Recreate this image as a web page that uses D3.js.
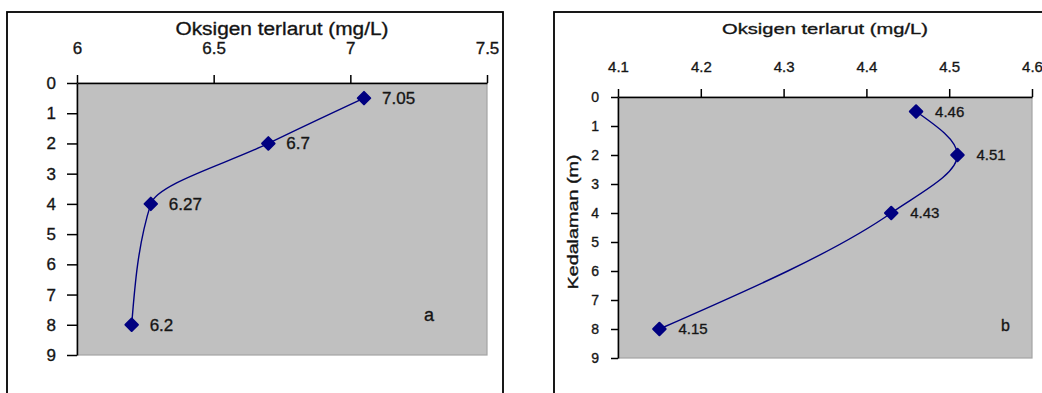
<!DOCTYPE html>
<html><head><meta charset="utf-8">
<script src="https://cdn.jsdelivr.net/npm/d3@7"></script>
<style>body{margin:0;background:#fff}svg{display:block}text{font-family:"Liberation Sans",Arial,sans-serif;stroke:#222;stroke-width:0.35px}</style>
</head><body><svg id="c" width="1042" height="393"></svg>
<script>
const depthsA = [0.5, 2, 4, 8];
const oxygenA = [7.05, 6.7, 6.27, 6.2];
const xTicksA = [6, 6.5, 7, 7.5];
const depthsB = [0.5, 2, 4, 8];
const oxygenB = [4.46, 4.51, 4.43, 4.15];
const xTicksB = [4.1, 4.2, 4.3, 4.4, 4.5, 4.6];
const yTicks = [0,1,2,3,4,5,6,7,8,9];
const xTitle = "Oksigen terlarut (mg/L)";
const yTitleB = "Kedalaman (m)";

const svg = d3.select("#c");
const diamondType = d3.symbolDiamond2 || d3.symbolDiamond;

function panel(cfg){
  const g = svg.append("g");
  g.append("rect").attr("x",cfg.frame[0]).attr("y",cfg.frame[1]).attr("width",cfg.frame[2]).attr("height",cfg.frame[3])
    .attr("fill","none").attr("stroke","#000").attr("stroke-width",1.8);
  const x = d3.scaleLinear().domain(cfg.xDomain).range([cfg.left, cfg.right]);
  const y = d3.scaleLinear().domain([0,9]).range([cfg.top, cfg.bottom]);
  g.append("rect").attr("x",cfg.left).attr("y",cfg.top).attr("width",cfg.right-cfg.left).attr("height",cfg.bottom-cfg.top)
    .attr("fill","#c0c0c0").attr("stroke","#a4a4a4").attr("stroke-width",1.2);
  const xa = g.append("g").attr("transform",`translate(0,${cfg.top})`)
    .call(d3.axisTop(x).tickValues(cfg.xTicks).tickSize(cfg.xTickLen).tickSizeOuter(0).tickFormat(d=>String(d)));
  xa.select(".domain").attr("stroke","#000").attr("stroke-width",1.5);
  xa.selectAll(".tick line").attr("stroke","#000").attr("stroke-width",1.5);
  xa.selectAll(".tick text").attr("y",-(cfg.top-cfg.xLabY)).attr("font-size",cfg.tickFs).attr("fill","#111")
    .attr("dy","0.35em");
  const ya = g.append("g").attr("transform",`translate(${cfg.left},0)`)
    .call(d3.axisLeft(y).tickValues(yTicks).tickSize(cfg.yTickLen).tickSizeOuter(0).tickFormat(d=>String(d)));
  ya.select(".domain").attr("stroke","#000").attr("stroke-width",1.5);
  ya.selectAll(".tick line").attr("stroke","#000").attr("stroke-width",1.5);
  ya.selectAll(".tick text").attr("x",-cfg.yLabOff).attr("font-size",cfg.yTickFs).attr("fill","#111");
  g.append("text").attr("x",(cfg.left+cfg.right)/2).attr("y",cfg.titleY).attr("text-anchor","middle")
    .attr("dy","0.35em").attr("font-size",cfg.titleFs).attr("fill","#111")
    .attr("textLength",cfg.titleLen).attr("lengthAdjust","spacingAndGlyphs").text(xTitle);
  const pts = cfg.depths.map((d,i)=>[cfg.vals[i], d]);
  g.append("path").datum(pts)
    .attr("d", d3.line().x(p=>x(p[0])).y(p=>y(p[1])).curve(d3.curveMonotoneY))
    .attr("fill","none").attr("stroke","#000080").attr("stroke-width",1.4);
  g.selectAll("path.m").data(pts).enter().append("path").attr("class","m")
    .attr("d", d3.symbol().type(diamondType).size(100))
    .attr("transform",p=>`translate(${x(p[0])},${y(p[1])})`).attr("fill","#000080")
    .attr("stroke","#000080").attr("stroke-width",2).attr("stroke-linejoin","round");
  g.selectAll("text.lbl").data(pts).enter().append("text").attr("class","lbl")
    .attr("x",p=>x(p[0])+cfg.lblOff).attr("y",p=>y(p[1])).attr("dy","0.35em")
    .attr("font-size",cfg.lblFs).attr("fill","#111").text(p=>String(p[0]));
  g.append("text").attr("x",cfg.letter[0]).attr("y",cfg.letter[1]).attr("dy","0.35em")
    .attr("font-size",cfg.lblFs+1).attr("fill","#111").text(cfg.letterText);
  return {g,x,y};
}

panel({frame:[7,12,496,400], xDomain:[6,7.5], left:77, right:487, top:83, bottom:355,
  xTicks:xTicksA, xLabY:48, titleY:29, tickFs:17, yTickFs:17, titleFs:18, titleLen:213, yLabOff:21,
  xTickLen:8, yTickLen:10,
  depths:depthsA, vals:oxygenA, lblOff:18, lblFs:17, letter:[424,315], letterText:"a"});

const pb = panel({frame:[554,12,520,400], xDomain:[4.1,4.6], left:618, right:1032, top:97, bottom:358,
  xTicks:xTicksB, xLabY:67, titleY:29, tickFs:15, yTickFs:14, titleFs:15, titleLen:206, yLabOff:19,
  xTickLen:8, yTickLen:7,
  depths:depthsB, vals:oxygenB, lblOff:19, lblFs:15, letter:[1001,325], letterText:"b"});

pb.g.append("text").attr("transform","translate(573,222) rotate(-90)").attr("text-anchor","middle")
  .attr("dy","0.35em").attr("font-size",14).attr("fill","#111")
  .attr("textLength",135).attr("lengthAdjust","spacingAndGlyphs").text(yTitleB);
</script></body></html>
